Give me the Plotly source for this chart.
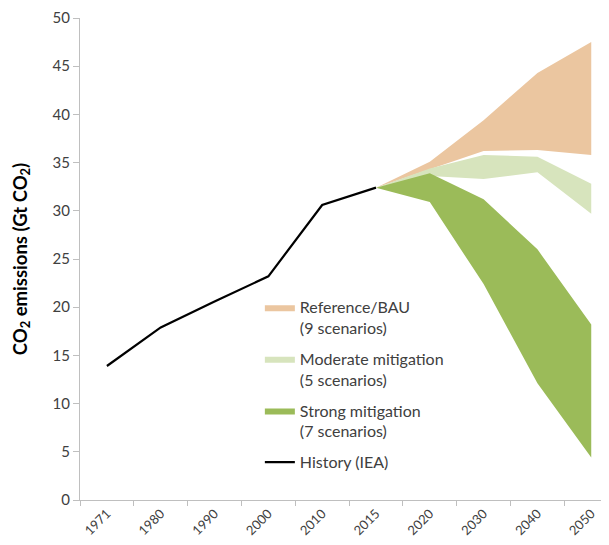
import plotly.graph_objects as go

# -------------------------
# DATA
# -------------------------
years = ['1971', '1980', '1990', '2000', '2010', '2015', '2020', '2030', '2040', '2050']

history_years = ['1971', '1980', '1990', '2000', '2010', '2015']
history = [13.9, 17.9, 20.6, 23.2, 30.6, 32.4]

scen_years = ['2015', '2020', '2030', '2040', '2050']
bau_low = [32.4, 34.3, 36.2, 36.3, 35.8]
bau_high = [32.4, 35.1, 39.4, 44.3, 47.5]
mod_low = [32.4, 33.6, 33.3, 34.0, 29.7]
mod_high = [32.4, 34.4, 35.8, 35.6, 32.8]
strong_low = [32.4, 30.9, 22.4, 12.1, 4.4]
strong_high = [32.4, 33.9, 31.2, 26.0, 18.2]

FONT = 'Lato, Carlito, Calibri, sans-serif'
TEXT_COLOR = '#404040'
AXIS_COLOR = '#bfbfbf'


def band(low, high, name, color, group):
    # closed polygon: upper edge forward, lower edge back
    return go.Scatter(
        x=scen_years + scen_years[::-1],
        y=high + low[::-1],
        fill='toself',
        fillcolor=color,
        mode='lines',
        line=dict(width=0, color=color),
        name=name,
        legendgroup=group,
        hoverinfo='skip'
    )


fig = go.Figure()
fig.add_trace(band(bau_low, bau_high, 'Reference/BAU<br>(9 scenarios)', '#ebc6a0', 'a'))
fig.add_trace(band(mod_low, mod_high, 'Moderate mitigation<br>(5 scenarios)', '#d7e4bd', 'b'))
fig.add_trace(band(strong_low, strong_high, 'Strong mitigation<br>(7 scenarios)', '#9bbb59', 'c'))
fig.add_trace(go.Scatter(
    x=history_years, y=history,
    mode='lines', name='History (IEA)',
    legendgroup='d',
    line=dict(color='black', width=2.2)
))

# page body adds an 8px margin, so the figure is shifted by that amount
fig.update_layout(
    width=601,
    height=537,
    margin=dict(l=72, r=0, t=7, b=45),
    paper_bgcolor='white',
    plot_bgcolor='white',
    font=dict(family=FONT, size=15, color=TEXT_COLOR),
    showlegend=True,
    legend=dict(
        x=0.34, y=0.435, xanchor='left', yanchor='top',
        bgcolor='rgba(0,0,0,0)',
        font=dict(family=FONT, size=16, color=TEXT_COLOR),
        traceorder='grouped',
        tracegroupgap=7,
        valign='top',
        itemwidth=30
    ),
    xaxis=dict(
        type='category',
        categoryorder='array',
        categoryarray=years,
        range=[-0.5, 9.33],
        showgrid=False,
        showline=True,
        linecolor=AXIS_COLOR,
        ticks='outside',
        tickson='boundaries',
        ticklen=5,
        tickcolor=AXIS_COLOR,
        tickangle=-45,
        tickfont=dict(size=13, color=TEXT_COLOR),
        zeroline=False
    ),
    yaxis=dict(
        range=[0, 50],
        dtick=5,
        showgrid=False,
        showline=True,
        linecolor=AXIS_COLOR,
        ticks='outside',
        ticklen=6,
        tickcolor=AXIS_COLOR,
        tickfont=dict(size=15, color=TEXT_COLOR),
        ticklabeloverflow='allow',
        zeroline=False,
        title=dict(
            text='<b>CO<sub>2</sub> emissions (Gt CO<sub>2</sub>)</b>',
            font=dict(size=18.5, color='black'),
            standoff=20
        )
    )
)

fig.write_html("out.html")
